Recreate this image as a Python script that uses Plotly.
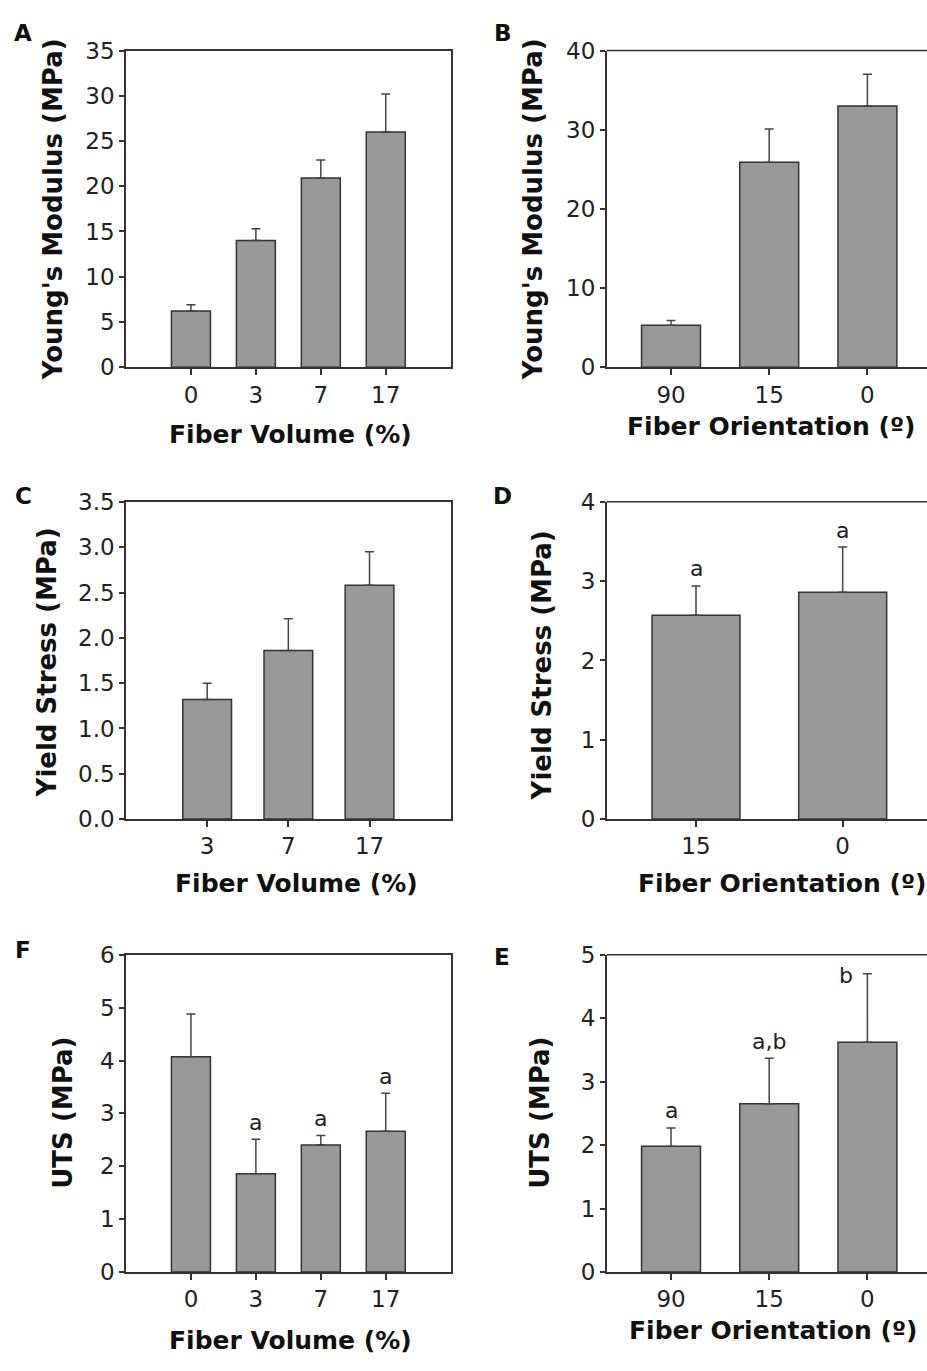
import plotly.graph_objects as go

# ---------------- data ----------------
vol_cats = ["0", "3", "7", "17"]
vol_cats_c = ["3", "7", "17"]
ori_cats = ["90", "15", "0"]
ori_cats_d = ["15", "0"]

ym_vol = [6.2, 14.0, 20.9, 26.0]
ym_vol_err = [0.7, 1.3, 2.0, 4.2]
ym_ori = [5.3, 25.9, 33.0]
ym_ori_err = [0.6, 4.2, 4.0]

ys_vol = [1.32, 1.86, 2.58]
ys_vol_err = [0.18, 0.35, 0.37]
ys_ori = [2.57, 2.86]
ys_ori_err = [0.37, 0.57]
ys_ori_sig = ["a", "a"]

uts_vol = [4.07, 1.86, 2.40, 2.66]
uts_vol_err = [0.81, 0.65, 0.18, 0.72]
uts_vol_sig = ["", "a", "a", "a"]
uts_ori = [1.98, 2.65, 3.62]
uts_ori_err = [0.29, 0.72, 1.08]
uts_ori_sig = ["a", "a,b", "b"]

# ---------------- layout helpers ----------------
W, H = 927, 1371
def px(x):
    return x / W
def py(y):
    return 1 - y / H

FONT = "DejaVu Sans"
BAR_FILL = "#999999"
LINE = "#333333"

fig = go.Figure()

panels = [
    dict(cats=vol_cats, vals=ym_vol, errs=ym_vol_err, sig=None,
         xr=[-1, 4], xd=(126, 450.7), yd=(38.3, 361), yr=[0, 35], dt=5, fmt="",
         ytitle="Young's Modulus (MPa)", xtitle="Fiber Volume (%)", letter="A",
         full=True, ytpos=(53, 200), xtpos=(290, 430), lpos=(23, 20)),
    dict(cats=ori_cats, vals=ym_ori, errs=ym_ori_err, sig=None,
         xr=[-0.655, 2.607], xd=(606.7, 927), yd=(38.3, 361), yr=[0, 40], dt=10, fmt="",
         ytitle="Young's Modulus (MPa)", xtitle="Fiber Orientation (º)", letter="B",
         full=False, ytpos=(533, 200), xtpos=(771, 422), lpos=(503, 20)),
    dict(cats=vol_cats_c, vals=ys_vol, errs=ys_vol_err, sig=None,
         xr=[-1, 3], xd=(126, 450.7), yd=(498.3, 821.7), yr=[0, 3.5], dt=0.5, fmt=".1f",
         ytitle="Yield Stress (MPa)", xtitle="Fiber Volume (%)", letter="C",
         full=True, ytpos=(47, 662), xtpos=(296, 887), lpos=(23, 492)),
    dict(cats=ori_cats_d, vals=ys_ori, errs=ys_ori_err, sig=ys_ori_sig,
         xr=[-0.609, 1.575], xd=(606.7, 927), yd=(498.3, 821.7), yr=[0, 4], dt=1, fmt="",
         ytitle="Yield Stress (MPa)", xtitle="Fiber Orientation (º)", letter="D",
         full=False, ytpos=(542, 665), xtpos=(782, 887), lpos=(503, 492)),
    dict(cats=vol_cats, vals=uts_vol, errs=uts_vol_err, sig=uts_vol_sig,
         xr=[-1, 4], xd=(126, 450.7), yd=(960, 1283.3), yr=[0, 6], dt=1, fmt="",
         ytitle="UTS (MPa)", xtitle="Fiber Volume (%)", letter="F",
         full=True, ytpos=(63, 1121), xtpos=(290, 1353), lpos=(23, 955)),
    dict(cats=ori_cats, vals=uts_ori, errs=uts_ori_err, sig=uts_ori_sig,
         xr=[-0.655, 2.607], xd=(606.7, 927), yd=(960, 1283.3), yr=[0, 5], dt=1, fmt="",
         ytitle="UTS (MPa)", xtitle="Fiber Orientation (º)", letter="E",
         full=False, ytpos=(540, 1121), xtpos=(773, 1343), lpos=(502, 962)),
]

annotations = []
shapes = []
for i, p in enumerate(panels):
    n = "" if i == 0 else str(i + 1)
    xa, ya = "x" + n, "y" + n
    fig.add_trace(go.Bar(
        x=p["cats"], y=p["vals"], xaxis=xa, yaxis=ya, width=0.6,
        marker=dict(color=BAR_FILL, line=dict(color=LINE, width=1.5)),
        error_y=dict(type="data", symmetric=False, array=p["errs"],
                     arrayminus=[0] * len(p["errs"]), color="#444444",
                     thickness=1.5, width=4.5),
        showlegend=False, hoverinfo="skip",
    ))
    common_x = dict(
        domain=[px(p["xd"][0]), min(1.0, px(p["xd"][1]))],
        anchor=ya, type="category", categoryorder="array", categoryarray=p["cats"],
        range=p["xr"], showline=True, linecolor=LINE, linewidth=1.5,
        mirror=p["full"], ticks="outside", ticklen=6, tickcolor=LINE, tickwidth=1.5,
        tickfont=dict(family=FONT, size=23, color="#222222"),
        ticklabelstandoff=0, showgrid=False, zeroline=False, fixedrange=True,
    )
    common_y = dict(
        domain=[py(p["yd"][1]), py(p["yd"][0])],
        anchor=xa, range=p["yr"], dtick=p["dt"], tick0=0, tickformat=p["fmt"],
        showline=True, linecolor=LINE, linewidth=1.5, mirror=p["full"],
        ticks="outside", ticklen=5, tickcolor=LINE, tickwidth=1.5,
        tickfont=dict(family=FONT, size=23, color="#222222"),
        showgrid=False, zeroline=False, fixedrange=True,
    )
    fig.update_layout(**{("xaxis" + n): common_x, ("yaxis" + n): common_y})
    if not p["full"]:
        shapes.append(dict(type="line", xref=xa + " domain", yref=ya + " domain",
                           x0=0, x1=1, y0=1, y1=1, line=dict(color=LINE, width=1.5)))
    # axis titles
    annotations.append(dict(text=p["ytitle"], x=px(p["ytpos"][0]), y=py(p["ytpos"][1]),
                            xref="paper", yref="paper", showarrow=False, textangle=-90,
                            xanchor="center", yanchor="middle",
                            font=dict(family=FONT, size=26, color="#111111", weight="bold")))
    annotations.append(dict(text=p["xtitle"], x=px(p["xtpos"][0]), y=py(p["xtpos"][1]),
                            xref="paper", yref="paper", showarrow=False,
                            xanchor="center", yanchor="middle",
                            font=dict(family=FONT, size=25, color="#111111", weight="bold")))
    annotations.append(dict(text=p["letter"], x=px(p["lpos"][0]), y=py(p["lpos"][1]),
                            xref="paper", yref="paper", showarrow=False,
                            xanchor="center", yanchor="middle",
                            font=dict(family=FONT, size=23, color="#111111", weight="bold")))
    if p["sig"]:
        for k, (v, e, s) in enumerate(zip(p["vals"], p["errs"], p["sig"])):
            if not s:
                continue
            top = v + e
            room = p["yr"][1] - top
            if room < 0.1 * (p["yr"][1] - p["yr"][0]):
                annotations.append(dict(text=s, x=k, y=top, xref=xa, yref=ya,
                                        showarrow=False, xanchor="center", yanchor="middle",
                                        xshift=-21, yshift=-2,
                                        font=dict(family=FONT, size=22, color="#222222")))
            else:
                annotations.append(dict(text=s, x=k, y=top, xref=xa, yref=ya,
                                        showarrow=False, xanchor="center", yanchor="middle",
                                        yshift=17,
                                        font=dict(family=FONT, size=22, color="#222222")))

fig.update_layout(
    width=W, height=H, margin=dict(l=0, r=0, t=0, b=0),
    paper_bgcolor="white", plot_bgcolor="white",
    annotations=annotations, shapes=shapes, bargap=0.4,
    font=dict(family=FONT),
)

fig.write_html("out.html")
